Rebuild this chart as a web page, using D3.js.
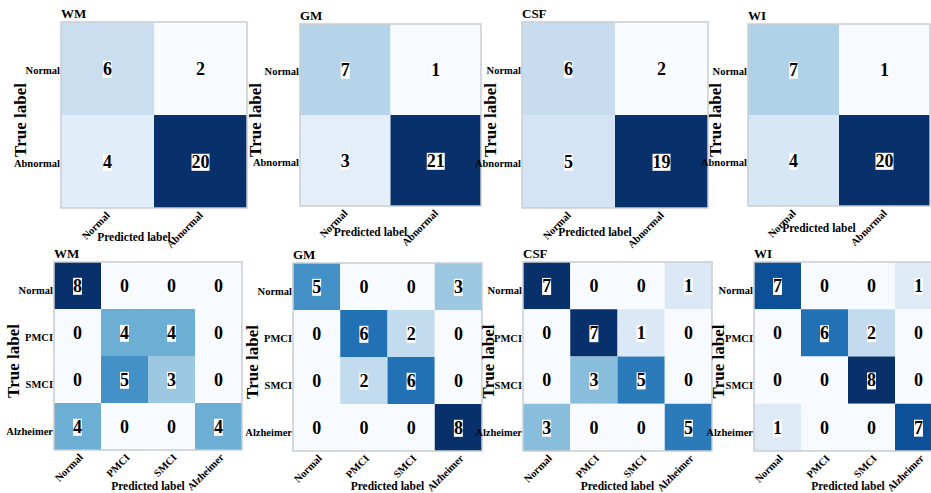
<!DOCTYPE html>
<html lang="en">
<head>
  <meta charset="UTF-8">
  <title>Confusion matrices</title>
  <script src="https://cdn.jsdelivr.net/npm/d3@7/dist/d3.min.js"></script>
  <style>
    body { margin: 0; background: #fff; }
    text { font-family: "Liberation Serif", "Times New Roman", serif; font-weight: bold; fill: #000; }
  </style>
</head>
<body>
  <svg id="chart" width="931" height="493"></svg>
  <script>
    // data
    const panelTitles = ['WM', 'GM', 'CSF', 'WI'];
    const binaryClasses = ['Normal', 'Abnormal'];
    const multiClasses = ['Normal', 'PMCI', 'SMCI', 'Alzheimer'];
    const binaryMatrices = [
      [[6, 2], [4, 20]],
      [[7, 1], [3, 21]],
      [[6, 2], [5, 19]],
      [[7, 1], [4, 20]]
    ];
    const multiMatrices = [
      [[8, 0, 0, 0], [0, 4, 4, 0], [0, 5, 3, 0], [4, 0, 0, 4]],
      [[5, 0, 0, 3], [0, 6, 2, 0], [0, 2, 6, 0], [0, 0, 0, 8]],
      [[7, 0, 0, 1], [0, 7, 1, 0], [0, 3, 5, 0], [3, 0, 0, 5]],
      [[7, 0, 0, 1], [0, 6, 2, 0], [0, 0, 8, 0], [1, 0, 0, 7]]
    ];

    // layout of each panel (pixel boxes)
    // yl = offset of "True label", pl = baseline of "Predicted label"
    const topBoxes = [
      {x: 61, y: 22, w: 186, h: 186, yl: 41, pl: 241},
      {x: 300, y: 24, w: 181, h: 182, yl: 45, pl: 236},
      {x: 522, y: 22, w: 186, h: 186, yl: 32, pl: 236},
      {x: 748, y: 24, w: 182, h: 182, yl: 33, pl: 232}
    ];
    const bottomBoxes = [
      {x: 54, y: 262, w: 188, h: 188, yl: 41, pl: 490},
      {x: 293, y: 263, w: 189, h: 188, yl: 41, pl: 490},
      {x: 523, y: 262, w: 189, h: 189, yl: 35, pl: 490},
      {x: 754, y: 262, w: 188, h: 189, yl: 36, pl: 490}
    ];

    const svg = d3.select('#chart');

    const drawPanel = (box, title, classes, matrix, opts) => {
      const g = svg.append('g').attr('transform', `translate(${box.x}, ${box.y})`);
      const flat = matrix.flat();
      const color = d3.scaleSequential(d3.interpolateBlues)
        .domain([d3.min(flat), d3.max(flat)]);
      const xScale = d3.scaleBand().domain(classes).range([0, box.w]);
      const yScale = d3.scaleBand().domain(classes).range([0, box.h]);

      const cells = [];
      matrix.forEach((row, i) => row.forEach((v, j) => cells.push({r: classes[i], c: classes[j], v})));

      g.selectAll('rect.cell').data(cells)
        .enter().append('rect')
          .attr('class', 'cell')
          .attr('x', d => xScale(d.c))
          .attr('y', d => yScale(d.r))
          .attr('width', xScale.bandwidth())
          .attr('height', yScale.bandwidth())
          .attr('fill', d => color(d.v));

      g.append('rect')
        .attr('width', box.w)
        .attr('height', box.h)
        .attr('fill', 'none')
        .attr('stroke', '#c9cdd2')
        .attr('stroke-width', 1.5);

      // numbers with white box
      const labels = g.selectAll('g.num').data(cells)
        .enter().append('g')
          .attr('class', 'num')
          .attr('transform', d => `translate(${xScale(d.c) + xScale.bandwidth() / 2}, ${yScale(d.r) + yScale.bandwidth() / 2})`);
      labels.append('rect').attr('fill', '#fff');
      labels.append('text')
        .attr('text-anchor', 'middle')
        .attr('dy', '0.35em')
        .style('font-size', '18px')
        .text(d => d.v);
      labels.each(function() {
        const bb = d3.select(this).select('text').node().getBBox();
        d3.select(this).select('rect')
          .attr('x', bb.x)
          .attr('y', bb.y + 2)
          .attr('width', bb.width)
          .attr('height', bb.height - 3);
      });

      // y tick labels
      g.selectAll('text.ytick').data(classes)
        .enter().append('text')
          .attr('class', 'ytick')
          .attr('x', -1)
          .attr('y', d => yScale(d) + yScale.bandwidth() / 2 + opts.yShift)
          .attr('dy', '0.35em')
          .attr('text-anchor', 'end')
          .style('font-size', '10.5px')
          .text(d => d);

      // x tick labels
      g.selectAll('text.xtick').data(classes)
        .enter().append('text')
          .attr('class', 'xtick')
          .attr('text-anchor', 'end')
          .attr('transform', d => `translate(${xScale(d) + xScale.bandwidth() / 2 + opts.xShift}, ${box.h + 8}) rotate(-45)`)
          .style('font-size', '10.5px')
          .text(d => d);

      g.append('text')
        .attr('x', 0)
        .attr('y', -4)
        .style('font-size', '13px')
        .text(title);

      g.append('text')
        .attr('transform', `translate(${-box.yl}, ${box.h / 2 + 5}) rotate(-90)`)
        .attr('text-anchor', 'middle')
        .attr('dy', '0.35em')
        .style('font-size', '17px')
        .text('True label');

      g.append('text')
        .attr('x', box.w / 2 + opts.plShift)
        .attr('y', box.pl - box.y)
        .attr('text-anchor', 'middle')
        .style('font-size', '11.5px')
        .text('Predicted label');
    };

    binaryMatrices.forEach((m, i) =>
      drawPanel(topBoxes[i], panelTitles[i], binaryClasses, m, {yShift: 2, xShift: 3, plShift: -20}));
    multiMatrices.forEach((m, i) =>
      drawPanel(bottomBoxes[i], panelTitles[i], multiClasses, m, {yShift: 5, xShift: 6, plShift: 0}));
  </script>
</body>
</html>
